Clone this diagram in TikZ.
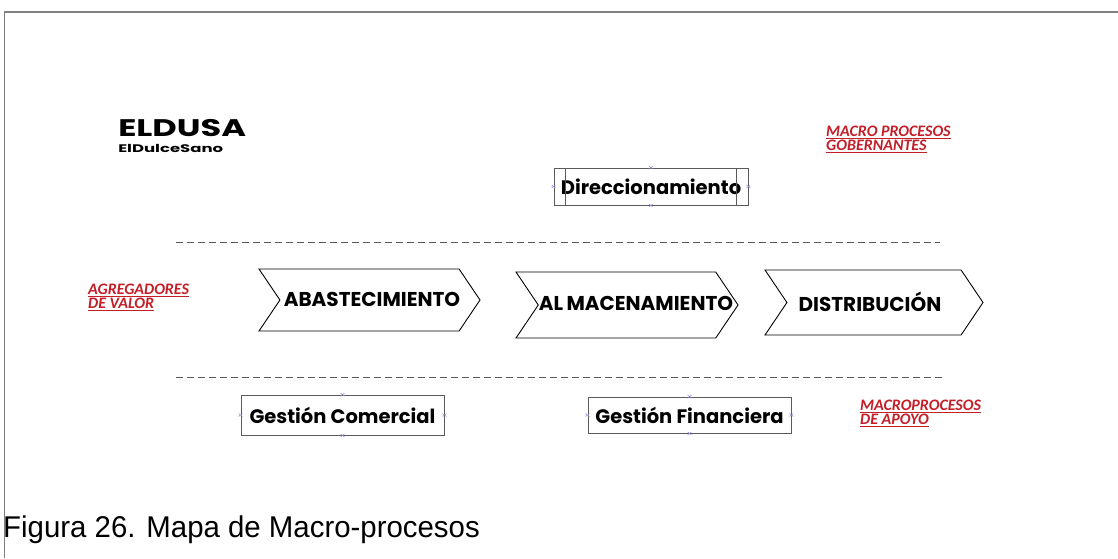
\documentclass[tikz,border=0pt]{standalone}
\usepackage{fontspec}
\setmainfont{Poppins}
\newfontfamily\capfont{Liberation Sans}
\newfontfamily\redfont{Carlito}
\usetikzlibrary{shapes.symbols,calc}
\definecolor{lblred}{RGB}{196,30,40}
\definecolor{boxgray}{RGB}{90,90,90}
\definecolor{handle}{RGB}{140,140,210}
\tikzset{
  x=1pt, y=-1pt,
  redlbl/.style={font=\redfont\bfseries\itshape\fontsize{16}{12.5}\selectfont, text=lblred, align=left, anchor=north west, inner sep=0pt},
  chevron/.style={draw=black, line width=0.9pt, shape=signal, signal to=east, signal from=west, signal pointer angle=112, minimum height=62pt, inner sep=0pt},
  chevtext/.style={inner sep=0pt, font=\bfseries\fontsize{20}{20}\selectfont},
  procbox/.style={draw=boxgray, line width=0.9pt, inner sep=0pt, font=\bfseries\fontsize{19.5}{20}\selectfont},
  dashline/.style={draw=boxgray, dash pattern=on 7pt off 4pt, line width=0.9pt},
  hdl/.style={draw=handle, line width=0.5pt}
}
\newcommand{\hmark}[1]{\draw[hdl] ($(#1)+(-2,-1.5)$) -- ++(4,3) ($(#1)+(-2,1.5)$) -- ++(4,-3);}
\begin{document}
\begin{tikzpicture}
\useasboundingbox (0,0) rectangle (1118,558);
\fill[white] (0,0) rectangle (1118,558);
% frame
\coordinate (ftr) at (1118,12);
\coordinate (ftl) at (4.5,12);
\coordinate (fbl) at (4.5,558);
\draw[draw=gray, line width=1.5pt] (ftr) -- (ftl) -- (fbl);
% title
\node[anchor=base west, inner sep=0pt, font=\bfseries\fontsize{24}{24}\selectfont, xscale=1.4] (eldusa) at (118,136) {ELDUSA};
\node[anchor=base west, inner sep=0pt, font=\bfseries\fontsize{11}{11}\selectfont, xscale=1.5] (dulce) at (118,152) {ElDulceSano};
% red labels
\node[redlbl] (gob) at (826,126) {\underline{MACRO PROCESOS}\\\underline{GOBERNANTES}};
\node[redlbl] (agr) at (88,284) {\underline{AGREGADORES}\\\underline{DE VALOR}};
\node[redlbl] (apo) at (860,400) {\underline{MACROPROCESOS}\\\underline{DE APOYO}};
% direccionamiento
\node[procbox, minimum width=194pt, minimum height=37pt] (dir) at (651,186.5) {Direccionamiento};
\draw[boxgray, line width=0.9pt] ($(dir.north west)+(12,0)$) coordinate (d1) -- ($(dir.south west)+(12,0)$);
\draw[boxgray, line width=0.9pt] ($(dir.north east)+(-12,0)$) coordinate (d2) -- ($(dir.south east)+(-12,0)$);
\hmark{dir.north}\hmark{dir.south}\hmark{dir.west}\hmark{dir.east}
% dashed lines
\coordinate (l1a) at (176,242); \coordinate (l1b) at (940,242);
\draw[dashline] (l1a) -- (l1b);
\coordinate (l2a) at (176,377); \coordinate (l2b) at (945,377);
\draw[dashline] (l2a) -- (l2b);
% chevrons
\node[chevron, minimum width=221pt] (aba) at (369.5,300) {};
\node[chevtext] (abat) at (372,299) {ABASTECIMIENTO};
\node[chevron, minimum width=222pt, minimum height=66pt] (alm) at (627,305) {};
\node[chevtext] (almt) at (636,303) {AL\,MACENAMIENTO};
\node[chevron, minimum width=218pt, minimum height=65pt] (dis) at (874,302.5) {};
\node[chevtext] (dist) at (870,302) {DISTRIBUCIÓN};
% support boxes
\node[procbox, minimum width=203pt, minimum height=40pt] (com) at (342.5,415) {Gestión Comercial};
\node[procbox, minimum width=203pt, minimum height=36pt] (fin) at (689.5,415) {Gestión Financiera};
\hmark{com.north}\hmark{com.south}\hmark{com.west}\hmark{com.east}
\hmark{fin.north}\hmark{fin.south}\hmark{fin.west}\hmark{fin.east}
% caption
\node[anchor=base west, inner sep=0pt, font=\capfont\fontsize{30}{30}\selectfont, xscale=0.98] (cap) at (3,537) {Figura 26. Mapa de Macro-procesos};
\end{tikzpicture}
\end{document}
